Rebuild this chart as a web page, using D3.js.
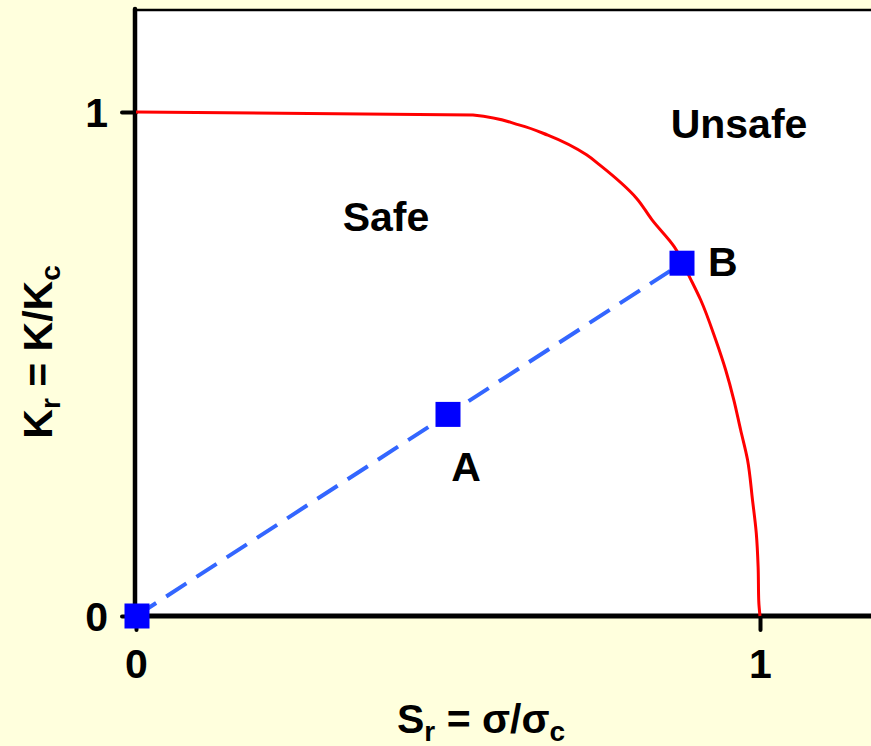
<!DOCTYPE html>
<html>
<head>
<meta charset="utf-8">
<script src="https://cdn.jsdelivr.net/npm/d3@7"></script>
<style>
  html, body { margin: 0; padding: 0; background: #ffffdd; }
  svg { display: block; font-family: Arial, "Liberation Sans", sans-serif; font-weight: bold; }
</style>
</head>
<body>
<div id="chart"></div>
<script>
// failure assessment curve (Sr, Kr)
const curveSr = [0, 0.54, 0.615, 0.66, 0.722, 0.743, 0.802, 0.827, 0.863, 0.887, 0.905, 0.929, 0.945, 0.958, 0.969, 0.980, 0.988, 0.994, 0.997, 0.998, 1.0];
const curveKr = [1.0, 0.994, 0.974, 0.954, 0.915, 0.895, 0.829, 0.786, 0.732, 0.673, 0.627, 0.548, 0.488, 0.429, 0.369, 0.310, 0.230, 0.165, 0.097, 0.03, 0];

// load path points
const pointNames = ['', 'A', 'B'];
const pointSr = [0, 0.5, 0.875];
const pointKr = [0, 0.4, 0.7];

const xTicks = [0, 1];
const yTicks = [0, 1];

const w = 871;
const h = 746;
const fs = '41px';

const svg = d3.select('#chart')
    .append('svg')
    .attr('width', w)
    .attr('height', h);

const x = d3.scaleLinear().domain([0, 1]).range([136, 760]);
const y = d3.scaleLinear().domain([0, 1]).range([616, 112]);

// plot area
svg.append('rect')
    .attr('x', x(0))
    .attr('y', 10)
    .attr('width', w - x(0))
    .attr('height', y(0) - 10)
    .attr('fill', '#ffffff');

// top border
svg.append('line')
    .attr('x1', x(0)).attr('x2', w)
    .attr('y1', 10).attr('y2', 10)
    .attr('stroke', '#000').attr('stroke-width', 2.5);

// axes
const xAxis = d3.axisBottom(x).tickValues(xTicks).tickFormat(d3.format('d')).tickSize(14).tickPadding(19);
const yAxis = d3.axisLeft(y).tickValues(yTicks).tickFormat(d3.format('d')).tickSize(14).tickPadding(14);

const gx = svg.append('g')
    .attr('transform', 'translate(0,' + y(0) + ')')
    .call(xAxis);
const gy = svg.append('g')
    .attr('transform', 'translate(' + x(0) + ',0)')
    .call(yAxis);

gx.select('.domain').remove();
gy.select('.domain').remove();

[gx, gy].forEach(g => {
    g.selectAll('.tick line')
        .attr('stroke', '#000')
        .attr('stroke-width', 4)
        .attr('stroke-linecap', 'round');
    g.selectAll('.tick text')
        .attr('fill', '#000')
        .style('font-size', fs)
        .style('font-family', 'Arial, "Liberation Sans", sans-serif')
        .style('font-weight', 'bold');
});
gx.selectAll('.tick text').attr('dy', '0.71em');
gy.selectAll('.tick text').attr('dy', '0.36em');

// axis lines
svg.append('line')
    .attr('x1', x(0) - 1).attr('x2', x(0) - 1)
    .attr('y1', 9).attr('y2', y(0) + 3)
    .attr('stroke', '#000').attr('stroke-width', 4.5)
    .attr('stroke-linecap', 'round');
svg.append('line')
    .attr('x1', x(0) - 1).attr('x2', w)
    .attr('y1', y(0)).attr('y2', y(0))
    .attr('stroke', '#000').attr('stroke-width', 5);

// curve
const curveData = curveSr.map((s, i) => [s, curveKr[i]]);
svg.append('path')
    .datum(curveData)
    .attr('fill', 'none')
    .attr('stroke', '#ff0000')
    .attr('stroke-width', 3)
    .attr('d', d3.line().x(d => x(d[0])).y(d => y(d[1])).curve(d3.curveMonotoneY));

// load line
const pts = pointSr.map((s, i) => ({ name: pointNames[i], sr: s, kr: pointKr[i] }));
svg.append('path')
    .datum(pts)
    .attr('fill', 'none')
    .attr('stroke', '#3366ff')
    .attr('stroke-width', 4)
    .attr('stroke-dasharray', '24,12')
    .attr('d', d3.line().x(d => x(d.sr)).y(d => y(d.kr)));

const sq = 25;
svg.selectAll('rect.pt')
    .data(pts)
    .enter()
    .append('rect')
    .attr('class', 'pt')
    .attr('x', d => x(d.sr) - sq / 2 + (d.sr === 0 ? 1 : 0))
    .attr('y', d => y(d.kr) - sq / 2)
    .attr('width', sq)
    .attr('height', sq)
    .attr('fill', '#0000ff');

// point labels
svg.append('text')
    .attr('x', x(pointSr[1]) + 18)
    .attr('y', y(pointKr[1]) + 67)
    .attr('text-anchor', 'middle')
    .style('font-size', fs)
    .text(pointNames[1]);
svg.append('text')
    .attr('x', x(pointSr[2]) + 26)
    .attr('y', y(pointKr[2]) + 13)
    .style('font-size', fs)
    .text(pointNames[2]);

// region labels
svg.append('text')
    .attr('x', 386)
    .attr('y', 231)
    .attr('text-anchor', 'middle')
    .style('font-size', fs)
    .text('Safe');
svg.append('text')
    .attr('x', 739)
    .attr('y', 138)
    .attr('text-anchor', 'middle')
    .style('font-size', fs)
    .text('Unsafe');

// axis titles
const xt = svg.append('text')
    .attr('x', 481)
    .attr('y', 733)
    .attr('text-anchor', 'middle')
    .style('font-size', fs);
xt.append('tspan').text('S');
xt.append('tspan').attr('dy', 8).style('font-size', '28px').text('r');
xt.append('tspan').attr('dy', -8).text(' = σ/σ');
xt.append('tspan').attr('dy', 8).style('font-size', '28px').text('c');

const yt = svg.append('text')
    .attr('transform', 'translate(52,352) rotate(-90)')
    .attr('text-anchor', 'middle')
    .style('font-size', fs);
yt.append('tspan').text('K');
yt.append('tspan').attr('dy', 8).style('font-size', '28px').text('r');
yt.append('tspan').attr('dy', -8).text(' = K/K');
yt.append('tspan').attr('dy', 8).style('font-size', '28px').text('c');
</script>
</body>
</html>
